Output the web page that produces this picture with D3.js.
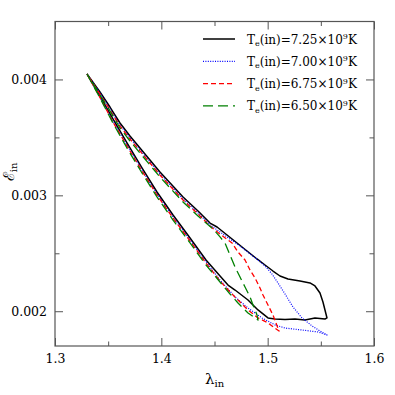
<!DOCTYPE html>
<html>
<head>
<meta charset="utf-8">
<script src="https://cdn.jsdelivr.net/npm/d3@7"></script>
<style>
  html, body { margin: 0; padding: 0; background: #fff; }
  svg { display: block; }
  text { font-family: "DejaVu Serif", "Liberation Serif", serif; fill: #000; }
</style>
</head>
<body>
<div id="chart"></div>
<script>
// ---- data ----
const xTicks = [1.3, 1.4, 1.5, 1.6];
const xMinorTicks = [1.35, 1.45, 1.55];
const yTicks = [0.002, 0.003, 0.004];
const yMinorTicks = [0.0025, 0.0035];
const xDomain = [1.3, 1.6];
const yDomain = [0.0017, 0.0045];

const seriesLabels = ["7.25", "7.00", "6.75", "6.50"];

// each loop: apex -> lower branch -> right end -> upper branch -> apex
const lambda725 = [1.3301,1.3423,1.3545,1.3677,1.3818,1.3959,1.4110,1.4270,1.4420,1.4552,1.4627,1.4693,1.4815,1.4909,1.5003,1.5069,1.5163,1.5257,1.5351,1.5445,1.5539,1.5558,
                   1.5520,1.5492,1.5445,1.5398,1.5304,1.5191,1.5116,1.5050,1.4975,1.4900,1.4806,1.4712,1.4618,1.4524,1.4458,1.4345,1.4204,1.4100,1.3987,1.3893,1.3799,1.3705,1.3611,1.3517,1.3423,1.3301];
const eps725 =    [0.004047,0.003857,0.003659,0.003452,0.003236,0.003029,0.002830,0.002632,0.002442,0.002304,0.002226,0.002183,0.002097,0.002011,0.001942,0.001933,0.001929,0.001933,0.001924,0.001942,0.001933,0.001942,
                   0.002080,0.002157,0.002218,0.002244,0.002261,0.002278,0.002304,0.002347,0.002399,0.002451,0.002520,0.002589,0.002658,0.002727,0.002761,0.002865,0.002986,0.003089,0.003201,0.003305,0.003408,0.003512,0.003624,0.003762,0.003892,0.004047];

const lambda700 = [1.3301,1.3423,1.3545,1.3677,1.3818,1.3959,1.4110,1.4270,1.4420,1.4552,1.4627,1.4693,1.4815,1.4947,1.5069,1.5163,1.5323,1.5473,1.5558,
                   1.5492,1.5417,1.5323,1.5238,1.5163,1.5097,1.5041,1.4975,1.4909,1.4834,1.4740,1.4646,1.4552,1.4458,1.4345,1.4204,1.4100,1.3987,1.3893,1.3799,1.3705,1.3611,1.3517,1.3423,1.3301];
const eps700 =    [0.004047,0.003849,0.003641,0.003434,0.003219,0.003012,0.002813,0.002615,0.002425,0.002269,0.002192,0.002123,0.002028,0.001942,0.001882,0.001855,0.001838,0.001821,0.001795,
                   0.001829,0.001873,0.001942,0.002037,0.002149,0.002244,0.002321,0.002390,0.002442,0.002494,0.002563,0.002623,0.002684,0.002744,0.002848,0.002968,0.003072,0.003184,0.003288,0.003391,0.003495,0.003607,0.003745,0.003883,0.004047];

const lambda675 = [1.3301,1.3423,1.3545,1.3677,1.3818,1.3959,1.4110,1.4270,1.4420,1.4552,1.4646,1.4721,1.4815,1.4909,1.5003,1.5107,
                   1.5050,1.5003,1.4956,1.4928,1.4881,1.4834,1.4787,1.4721,1.4665,1.4552,1.4458,1.4345,1.4204,1.4100,1.3987,1.3893,1.3799,1.3705,1.3611,1.3517,1.3423,1.3301];
const eps675 =    [0.004047,0.003844,0.003633,0.003426,0.003210,0.003003,0.002804,0.002606,0.002416,0.002261,0.002166,0.002097,0.002011,0.001942,0.001899,0.001829,
                   0.001967,0.002054,0.002140,0.002200,0.002287,0.002356,0.002442,0.002511,0.002589,0.002666,0.002735,0.002839,0.002960,0.003063,0.003176,0.003279,0.003383,0.003486,0.003598,0.003736,0.003874,0.004047];

const lambda650 = [1.3301,1.3423,1.3545,1.3677,1.3818,1.3959,1.4110,1.4270,1.4420,1.4552,1.4646,1.4721,1.4815,1.4909,
                   1.4900,1.4862,1.4834,1.4787,1.4740,1.4693,1.4646,1.4599,1.4552,1.4486,1.4345,1.4204,1.4100,1.3987,1.3893,1.3799,1.3705,1.3611,1.3517,1.3423,1.3301];
const eps650 =    [0.004047,0.003840,0.003624,0.003408,0.003193,0.002986,0.002787,0.002589,0.002399,0.002252,0.002149,0.002071,0.001985,0.001924,
                   0.001967,0.002054,0.002123,0.002209,0.002295,0.002382,0.002485,0.002589,0.002641,0.002710,0.002822,0.002943,0.003046,0.003158,0.003262,0.003365,0.003469,0.003581,0.003728,0.003866,0.004047];

// ---- layout ----
const W = 395, H = 395;
const L = 55, R = 374, T = 21.5, B = 346;

const svg = d3.select("#chart").append("svg").attr("width", W).attr("height", H);

const x = d3.scaleLinear().domain(xDomain).range([L, R]);
const y = d3.scaleLinear().domain(yDomain).range([B, T]);

const series = [
  {label: seriesLabels[0], xs: lambda725, ys: eps725, color: "#000000", dash: null, width: 1.5},
  {label: seriesLabels[1], xs: lambda700, ys: eps700, color: "#0000ff", dash: "1,1.4", width: 1.2},
  {label: seriesLabels[2], xs: lambda675, ys: eps675, color: "#ff0000", dash: "5,3", width: 1.3},
  {label: seriesLabels[3], xs: lambda650, ys: eps650, color: "#008000", dash: "10,5", width: 1.3}
];

const line = d3.line().x(d => x(d[0])).y(d => y(d[1])).curve(d3.curveLinear);

const plot = svg.append("g");
plot.append("clipPath").attr("id", "clip").append("rect")
  .attr("x", L).attr("y", T).attr("width", R - L).attr("height", B - T);

series.forEach(s => {
  const pts = s.xs.map((v, i) => [v, s.ys[i]]);
  plot.append("path")
    .attr("d", line(pts))
    .attr("fill", "none")
    .attr("stroke", s.color)
    .attr("stroke-width", s.width)
    .attr("stroke-dasharray", s.dash)
    .attr("stroke-linejoin", "round")
    .attr("clip-path", "url(#clip)");
});

// ---- axes ----
const axisColor = "#555";
function styleAxis(g) {
  g.select(".domain").remove();
  g.selectAll(".tick line").attr("stroke", axisColor).attr("stroke-width", 1);
  g.selectAll(".tick text").attr("font-family", "DejaVu Serif").attr("font-size", 12.5).attr("fill", "#000");
}

svg.append("g").attr("transform", `translate(0,${B})`)
  .call(d3.axisBottom(x).tickValues(xTicks).tickSize(-8).tickPadding(8).tickFormat(d3.format(".1f")))
  .call(styleAxis);
svg.append("g").attr("transform", `translate(0,${B})`)
  .call(d3.axisBottom(x).tickValues(xMinorTicks).tickSize(-4.5).tickFormat(""))
  .call(styleAxis);
svg.append("g").attr("transform", `translate(0,${T})`)
  .call(d3.axisTop(x).tickValues(xTicks).tickSize(-8).tickFormat(""))
  .call(styleAxis);
svg.append("g").attr("transform", `translate(0,${T})`)
  .call(d3.axisTop(x).tickValues(xMinorTicks).tickSize(-4.5).tickFormat(""))
  .call(styleAxis);

svg.append("g").attr("transform", `translate(${L},0)`)
  .call(d3.axisLeft(y).tickValues(yTicks).tickSize(-8).tickPadding(8).tickFormat(d3.format(".3f")))
  .call(styleAxis);
svg.append("g").attr("transform", `translate(${L},0)`)
  .call(d3.axisLeft(y).tickValues(yMinorTicks).tickSize(-4.5).tickFormat(""))
  .call(styleAxis);
svg.append("g").attr("transform", `translate(${R},0)`)
  .call(d3.axisRight(y).tickValues(yTicks).tickSize(-8).tickFormat(""))
  .call(styleAxis);
svg.append("g").attr("transform", `translate(${R},0)`)
  .call(d3.axisRight(y).tickValues(yMinorTicks).tickSize(-4.5).tickFormat(""))
  .call(styleAxis);

// frame
svg.append("rect").attr("x", L).attr("y", T).attr("width", R - L).attr("height", B - T)
  .attr("fill", "none").attr("stroke", axisColor).attr("stroke-width", 1.2);

// axis titles
const xt = svg.append("text").attr("x", 205).attr("y", 384).attr("font-size", 15);
xt.append("tspan").text("λ");
xt.append("tspan").attr("dy", 3).attr("font-size", 10).text("in");

const yt = svg.append("text").attr("transform", "translate(14,172) rotate(-90)")
  .attr("text-anchor", "middle").attr("font-size", 15);
yt.append("tspan").text("ℰ");
yt.append("tspan").attr("dy", 3).attr("font-size", 10).text("in");

// legend
const legY0 = 39, legDY = 22.3;
series.forEach((s, i) => {
  const yy = legY0 + i * legDY;
  svg.append("line").attr("x1", 203).attr("x2", 235).attr("y1", yy).attr("y2", yy)
    .attr("stroke", s.color).attr("stroke-width", s.width).attr("stroke-dasharray", s.dash);
  const t = svg.append("text").attr("x", 247).attr("y", yy + 4.5).attr("font-size", 12);
  t.append("tspan").text("T");
  t.append("tspan").attr("dy", 2.5).attr("font-size", 8).text("e");
  t.append("tspan").attr("dy", -2.5).text("(in)=" + s.label + "×10");
  t.append("tspan").attr("dy", -4.5).attr("font-size", 8).text("9");
  t.append("tspan").attr("dy", 4.5).text("K");
});
</script>
</body>
</html>
